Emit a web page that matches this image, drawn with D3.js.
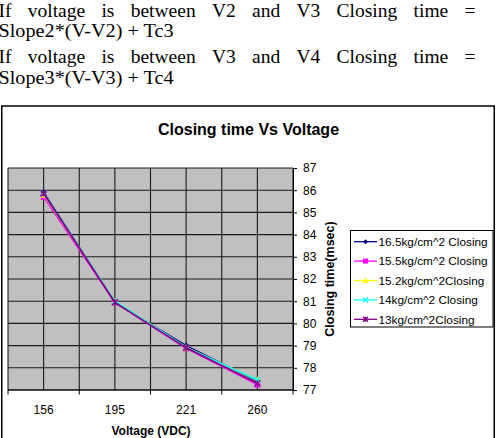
<!DOCTYPE html>
<html>
<head>
<meta charset="utf-8">
<script src="https://cdn.jsdelivr.net/npm/d3@7"></script>
<style>
  html, body { margin: 0; padding: 0; background: #fff; overflow: hidden; }
  svg { display: block; }
</style>
</head>
<body>
<svg id="c" width="498" height="438"></svg>
<script>
// ---- data ----
const categories = ["156", "195", "221", "260"];
const seriesNames = ["16.5kg/cm^2 Closing", "15.5kg/cm^2 Closing", "15.2kg/cm^2Closing", "14kg/cm^2 Closing", "13kg/cm^2Closing"];
const s165 = [85.9, 80.95, 79.0, 77.4];
const s155 = [85.7, 80.95, 78.88, 77.25];
const s152 = [85.8, 81.0, 78.92, 77.45];
const s14  = [85.85, 81.0, 78.92, 77.45];
const s13  = [85.85, 80.95, 78.9, 77.3];
const yTicks = [77, 78, 79, 80, 81, 82, 83, 84, 85, 86, 87];
const paraLines = [
  "If voltage is between V2 and V3 Closing time =",
  "Slope2*(V-V2) + Tc3",
  "If voltage is between V3 and V4 Closing time =",
  "Slope3*(V-V3) + Tc4"
];
const chartTitle = "Closing time Vs Voltage";
const xTitle = "Voltage (VDC)";
const yTitle = "Closing time(msec)";

const series = [
  { name: seriesNames[0], values: s165, color: "#000080", marker: "diamond" },
  { name: seriesNames[1], values: s155, color: "#ff00ff", marker: "square" },
  { name: seriesNames[2], values: s152, color: "#ffff00", marker: "triangle" },
  { name: seriesNames[3], values: s14,  color: "#00ffff", marker: "x" },
  { name: seriesNames[4], values: s13,  color: "#800080", marker: "star" }
];

const svg = d3.select("#c");

// ---- paragraph text (Times-like, justified) ----
const para = svg.append("g")
  .style("font-family", "'Liberation Serif', 'Times New Roman', serif")
  .style("font-size", "19.5px").attr("fill", "#000");
const baselines = [16.5, 37, 63, 84];
const justify = [true, false, true, false];
const leftX = -1.5, rightX = 475.5;
paraLines.forEach((line, i) => {
  if (!justify[i]) {
    para.append("text").attr("x", leftX).attr("y", baselines[i]).attr("textLength", 175)
      .attr("lengthAdjust", "spacingAndGlyphs").text(line);
  } else {
    const words = line.split(" ");
    const nodes = words.map(w => para.append("text").attr("y", baselines[i]).text(w));
    const widths = nodes.map(n => n.node().getComputedTextLength());
    const total = d3.sum(widths);
    const gap = (rightX - leftX - total) / (words.length - 1);
    let x = leftX;
    nodes.forEach((n, k) => { n.attr("x", x); x += widths[k] + gap; });
  }
});

// ---- chart frame ----
svg.append("rect").attr("x", 1.75).attr("y", 106).attr("width", 492.5).attr("height", 345)
  .attr("fill", "#fff").attr("stroke", "#000").attr("stroke-width", 1.5);

const sans = "'Liberation Sans', Arial, sans-serif";

svg.append("text").attr("x", 248.5).attr("y", 135).attr("text-anchor", "middle")
  .style("font-family", sans).style("font-size", "16px").style("font-weight", "bold")
  .text(chartTitle);

// ---- scales ----
const px0 = 8, px1 = 293, py0 = 168, py1 = 390;
const x = d3.scaleBand().domain(categories).range([px0, px1]).padding(0);
const y = d3.scaleLinear().domain([77, 87]).range([py1, py0]);
const xc = c => x(c) + x.bandwidth() / 2;

// plot area
svg.append("rect").attr("x", px0).attr("y", py0).attr("width", px1 - px0).attr("height", py1 - py0)
  .attr("fill", "#c0c0c0");

const grid = svg.append("g").attr("stroke", "#1a1a1a").attr("stroke-width", 1.1);
yTicks.forEach(t => {
  grid.append("line").attr("x1", px0).attr("x2", px1).attr("y1", y(t)).attr("y2", y(t));
});
const vLines = [];
categories.forEach(c => { vLines.push(x(c)); vLines.push(xc(c)); });
vLines.push(px1);
vLines.forEach(v => {
  grid.append("line").attr("x1", v).attr("x2", v).attr("y1", py0).attr("y2", py1);
});

// y axis (right)
const yAxis = svg.append("g").attr("transform", `translate(${px1},0)`)
  .call(d3.axisRight(y).tickValues(yTicks).tickSize(4).tickPadding(6).tickSizeOuter(0));
yAxis.select(".domain").attr("stroke", "#000");
yAxis.selectAll("line").attr("stroke", "#000");
yAxis.selectAll("text").style("font-family", sans).style("font-size", "12px").attr("fill", "#000");

// x axis (bottom) with ticks at band boundaries
const xAxisG = svg.append("g");
xAxisG.append("line").attr("x1", px0).attr("x2", px1).attr("y1", py1).attr("y2", py1).attr("stroke", "#000");
const bounds = categories.map(c => x(c)).concat([px1]);
bounds.forEach(b => {
  xAxisG.append("line").attr("x1", b).attr("x2", b).attr("y1", py1).attr("y2", py1 + 4.5).attr("stroke", "#000");
});
categories.forEach(c => {
  xAxisG.append("text").attr("x", xc(c)).attr("y", 413.5).attr("text-anchor", "middle")
    .style("font-family", sans).style("font-size", "12px").text(c);
});

svg.append("text").attr("x", 151).attr("y", 435).attr("text-anchor", "middle")
  .style("font-family", sans).style("font-size", "12px").style("font-weight", "bold").text(xTitle);

svg.append("text").attr("transform", "translate(334,279) rotate(-90)").attr("text-anchor", "middle")
  .style("font-family", sans).style("font-size", "12.5px").style("font-weight", "bold").text(yTitle);

// ---- markers ----
function drawMarker(g, mk, cx, cy, color, s) {
  if (mk === "diamond") {
    g.append("path").attr("d", `M${cx},${cy - s}L${cx + s},${cy}L${cx},${cy + s}L${cx - s},${cy}Z`).attr("fill", color);
  } else if (mk === "square") {
    g.append("rect").attr("x", cx - s).attr("y", cy - s).attr("width", 2 * s).attr("height", 2 * s).attr("fill", color);
  } else if (mk === "triangle") {
    g.append("path").attr("d", `M${cx},${cy - s - 0.5}L${cx + s + 0.5},${cy + s}L${cx - s - 0.5},${cy + s}Z`).attr("fill", color);
  } else if (mk === "x") {
    g.append("path").attr("d", `M${cx - s},${cy - s}L${cx + s},${cy + s}M${cx - s},${cy + s}L${cx + s},${cy - s}`)
      .attr("stroke", color).attr("stroke-width", 1.3);
  } else {
    g.append("path").attr("d", `M${cx - s},${cy - s}L${cx + s},${cy + s}M${cx - s},${cy + s}L${cx + s},${cy - s}M${cx},${cy - s}L${cx},${cy + s}`)
      .attr("stroke", color).attr("stroke-width", 1.3);
  }
}

const line = d3.line().x((d, i) => xc(categories[i])).y(d => y(d));
series.forEach(s => {
  const g = svg.append("g");
  g.append("path").attr("d", line(s.values)).attr("fill", "none")
    .attr("stroke", s.color).attr("stroke-width", 1.6);
  s.values.forEach((v, i) => drawMarker(g, s.marker, xc(categories[i]), y(v), s.color, 3));
});

// ---- legend ----
const lg = svg.append("g");
lg.append("rect").attr("x", 350.5).attr("y", 230.5).attr("width", 142.5).attr("height", 96.5)
  .attr("fill", "#fff").attr("stroke", "#000").attr("stroke-width", 1);
series.forEach((s, i) => {
  const ly = 241.7 + i * 19.4;
  lg.append("line").attr("x1", 354).attr("x2", 377).attr("y1", ly).attr("y2", ly)
    .attr("stroke", s.color).attr("stroke-width", 1.3);
  drawMarker(lg, s.marker, 365.5, ly, s.color, 2.5);
  lg.append("text").attr("x", 378.5).attr("y", ly + 4.2)
    .style("font-family", sans).style("font-size", "11.8px").text(s.name);
});
</script>
</body>
</html>
